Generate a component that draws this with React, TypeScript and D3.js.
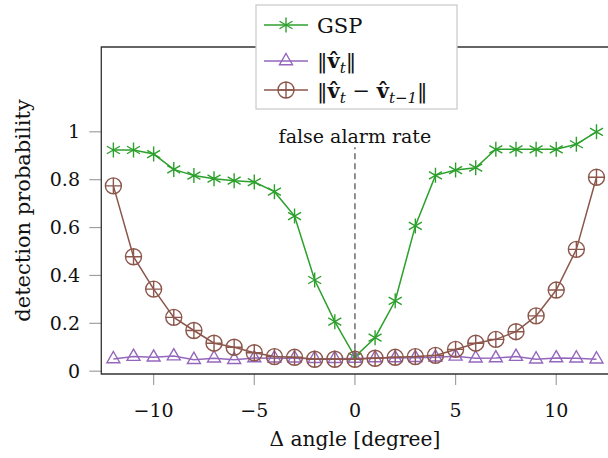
import React from 'react';
import * as d3 from 'd3';

// angle offsets and detection probabilities
const angles = [-12, -11, -10, -9, -8, -7, -6, -5, -4, -3, -2, -1, 0, 1, 2, 3, 4, 5, 6, 7, 8, 9, 10, 11, 12];
const gsp = [0.924, 0.924, 0.907, 0.843, 0.817, 0.804, 0.796, 0.79, 0.75, 0.648, 0.381, 0.207, 0.06, 0.14, 0.294, 0.607, 0.818, 0.84, 0.85, 0.927, 0.927, 0.927, 0.927, 0.948, 1.0];
const normV = [0.051, 0.061, 0.058, 0.063, 0.048, 0.054, 0.048, 0.055, 0.054, 0.054, 0.052, 0.052, 0.053, 0.055, 0.055, 0.056, 0.058, 0.062, 0.054, 0.055, 0.061, 0.05, 0.055, 0.054, 0.05];
const normDiff = [0.774, 0.478, 0.343, 0.225, 0.17, 0.117, 0.1, 0.077, 0.061, 0.058, 0.05, 0.05, 0.05, 0.054, 0.058, 0.061, 0.066, 0.091, 0.117, 0.133, 0.165, 0.231, 0.339, 0.509, 0.81];
const falseAlarm = 0.05;
const xTicks = [-10, -5, 0, 5, 10];
const yTicks = [0, 0.2, 0.4, 0.6, 0.8, 1];

const W = 608;
const H = 458;
const left = 101.3;
const top = 47;
const bottom = 374;
const font = 'DejaVu Serif';
const fs = 19;

const green = '#2ca02c';
const purple = '#9467bd';
const brown = '#8c564b';

const x = d3.scaleLinear().domain([-12.6, 12.6]).range([left, left + 25.2 * 20.13]);
const y = d3.scaleLinear().domain([0, 1]).range([371.2, 131.8]);

function asterisk(r: number) {
    // three strokes: vertical and two at +-30 deg
    return [90, 30, 150].map((a) => {
        const t = (a * Math.PI) / 180;
        const dx = r * Math.cos(t);
        const dy = r * Math.sin(t);
        return `M${-dx},${-dy}L${dx},${dy}`;
    }).join('');
}

function triangle(r: number) {
    const h = r * Math.sqrt(3) / 2;
    return `M0,${-r}L${h},${r / 2}L${-h},${r / 2}Z`;
}

function oplus(r: number) {
    return `M${r},0A${r},${r} 0 1,1 ${-r},0A${r},${r} 0 1,1 ${r},0ZM${-r},0L${r},0M0,${-r}L0,${r}`;
}

function Series({values, color, marker}: {values: number[]; color: string; marker: string}) {
    const line = d3.line<number>()
        .x((_, i) => x(angles[i]))
        .y((d) => y(d));
    return (
        <g>
            <path d={line(values) || ''} fill="none" stroke={color} strokeWidth={1.5}/>
            {values.map((v, i) => (
                <path key={i} d={marker} transform={`translate(${x(angles[i])},${y(v)})`}
                      fill="none" stroke={color} strokeWidth={1.4}/>
            ))}
        </g>
    );
}

export default function App() {
    const sub = {fontSize: 15, fontStyle: 'italic' as const};
    return (
        <div>
            <style>{'body{margin:0}'}</style>
            <svg width={W} height={H} style={{display: 'block'}} fontFamily={font}>
                <rect width={W} height={H} fill="#fff"/>

                {/* ticks */}
                {xTicks.map((t) => (
                    <g key={t}>
                        <line x1={x(t)} x2={x(t)} y1={bottom} y2={bottom + 11} stroke="#a0a0a0" strokeWidth={1.2}/>
                        <text x={x(t)} y={417} textAnchor="middle" fontSize={fs} fill="#111">
                            {t < 0 ? `\u2212${-t}` : t}
                        </text>
                    </g>
                ))}
                {yTicks.map((t) => (
                    <g key={t}>
                        <line x1={left - 12} x2={left} y1={y(t)} y2={y(t)} stroke="#a0a0a0" strokeWidth={1.2}/>
                        <text x={80} y={y(t)} dy="0.35em" textAnchor="end" fontSize={fs} fill="#111">
                            {String(t)}
                        </text>
                    </g>
                ))}

                {/* frame */}
                <path d={`M${W + 5},${top}H${left}V${bottom}H${W + 5}`} fill="none" stroke="#333" strokeWidth={1.3}/>

                {/* false alarm marker */}
                <line x1={x(0)} x2={x(0)} y1={y(falseAlarm)} y2={y(0.935)} stroke="#555"
                      strokeWidth={1.3} strokeDasharray="6,4"/>
                <text x={x(0)} y={143} textAnchor="middle" fontSize={fs} fill="#111">false alarm rate</text>

                <Series values={gsp} color={green} marker={asterisk(7.5)}/>
                <Series values={normV} color={purple} marker={triangle(7.5)}/>
                <Series values={normDiff} color={brown} marker={oplus(8)}/>

                {/* axis titles */}
                <text x={x(0)} y={446} textAnchor="middle" fontSize={20.2} fill="#111">Δ angle [degree]</text>
                <text transform={`translate(30,${(top + bottom) / 2}) rotate(-90)`} textAnchor="middle"
                      fontSize={21} fill="#111">detection probability</text>

                {/* legend */}
                <g fontSize={21}>
                    <rect x={256} y={5} width={201} height={104} fill="#fff" stroke="#c8c8c8" strokeWidth={1.2}/>
                    <line x1={264} x2={308} y1={25} y2={25} stroke={green} strokeWidth={1.5}/>
                    <path d={asterisk(7.5)} transform="translate(286,25)" fill="none" stroke={green} strokeWidth={1.4}/>
                    <text x={317} y={33} fill="#111">GSP</text>

                    <line x1={264} x2={308} y1={61} y2={61} stroke={purple} strokeWidth={1.5}/>
                    <path d={triangle(7.5)} transform="translate(286,61)" fill="none" stroke={purple} strokeWidth={1.4}/>
                    <text x={317} y={68} fill="#111">
                        ‖<tspan fontWeight="bold">v̂</tspan><tspan {...sub} dy={5}>t</tspan><tspan dy={-5}>‖</tspan>
                    </text>

                    <line x1={264} x2={308} y1={90} y2={90} stroke={brown} strokeWidth={1.5}/>
                    <path d={oplus(8)} transform="translate(286,90)" fill="none" stroke={brown} strokeWidth={1.4}/>
                    <text x={317} y={98} fill="#111">
                        ‖<tspan fontWeight="bold">v̂</tspan><tspan {...sub} dy={5}>t</tspan>
                        <tspan dy={-5}> − </tspan><tspan fontWeight="bold">v̂</tspan>
                        <tspan {...sub} dy={5}>t−1</tspan><tspan dy={-5}>‖</tspan>
                    </text>
                </g>
            </svg>
        </div>
    );
}
